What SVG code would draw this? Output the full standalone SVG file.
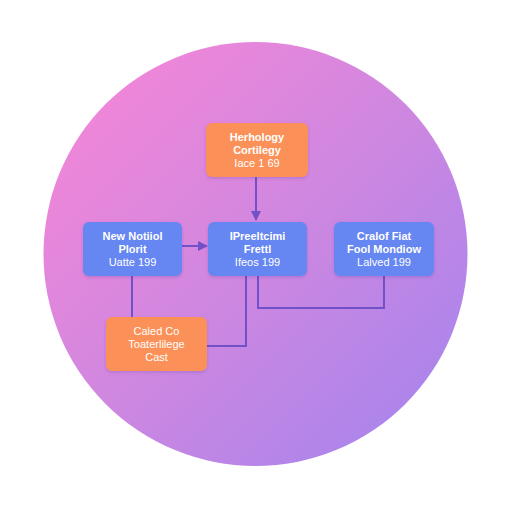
<svg xmlns="http://www.w3.org/2000/svg" width="512" height="512" viewBox="0 0 512 512">
  <defs>
    <linearGradient id="bg" x1="0" y1="0" x2="1" y2="1">
      <stop offset="0" stop-color="#fb86d6"/>
      <stop offset="0.5" stop-color="#cf87e0"/>
      <stop offset="1" stop-color="#a084ef"/>
    </linearGradient>
    <marker id="arr" viewBox="0 0 10 10" refX="9" refY="5" markerWidth="5" markerHeight="5" orient="auto" markerUnits="strokeWidth">
      <path d="M0,0 L10,5 L0,10 z" fill="#7150c8"/>
    </marker>
    <filter id="sh" x="-20%" y="-20%" width="140%" height="150%">
      <feDropShadow dx="0" dy="1.5" stdDeviation="1.5" flood-color="#5a3a9a" flood-opacity="0.25"/>
    </filter>
  </defs>
  <style>
    .orange { fill: #fb9158; }
    .blue { fill: #6686f2; }
    .box { filter: url(#sh); }
    .t { font-family: "Liberation Sans", Arial, sans-serif; font-size: 11px; font-weight: bold; fill: #ffffff; text-anchor: middle; }
    .s { font-family: "Liberation Sans", Arial, sans-serif; font-size: 11px; font-weight: normal; fill: #ffffff; text-anchor: middle; }
    .c { fill: none; stroke: #7150c8; stroke-width: 2; }
  </style>
  <rect width="512" height="512" fill="#ffffff"/>
  <circle cx="255.5" cy="254" r="212" fill="url(#bg)"/>

  <g id="connectors">
    <path class="c" d="M256,177 V220" marker-end="url(#arr)"/>
    <path class="c" d="M182,246 H207" marker-end="url(#arr)"/>
    <path class="c" d="M132,276 V317"/>
    <path class="c" d="M246,276 V346 H207"/>
    <path class="c" d="M258,276 V308 H384 V276"/>
  </g>

  <g id="node-top">
    <rect class="box orange" x="206" y="123" width="102" height="54" rx="6"/>
    <text class="t" x="257" y="141">Herhology</text>
    <text class="t" x="257" y="154">Cortilegy</text>
    <text class="s" x="257" y="167">Iace 1 69</text>
  </g>

  <g id="node-left">
    <rect class="box blue" x="83" y="222" width="99" height="54" rx="6"/>
    <text class="t" x="132.5" y="240">New Notiiol</text>
    <text class="t" x="132.5" y="253">Plorit</text>
    <text class="s" x="132.5" y="266">Uatte 199</text>
  </g>

  <g id="node-center">
    <rect class="box blue" x="208" y="222" width="99" height="54" rx="6"/>
    <text class="t" x="257.5" y="240">IPreeltcimi</text>
    <text class="t" x="257.5" y="253">Frettl</text>
    <text class="s" x="257.5" y="266">Ifeos 199</text>
  </g>

  <g id="node-right">
    <rect class="box blue" x="334" y="222" width="100" height="54" rx="6"/>
    <text class="t" x="384" y="240">Cralof Fiat</text>
    <text class="t" x="384" y="253">Fool Mondiow</text>
    <text class="s" x="384" y="266">Lalved 199</text>
  </g>

  <g id="node-bottom">
    <rect class="box orange" x="106" y="317" width="101" height="54" rx="6"/>
    <text class="s" x="156.5" y="335">Caled Co</text>
    <text class="s" x="156.5" y="348">Toaterlilege</text>
    <text class="s" x="156.5" y="361">Cast</text>
  </g>
</svg>
